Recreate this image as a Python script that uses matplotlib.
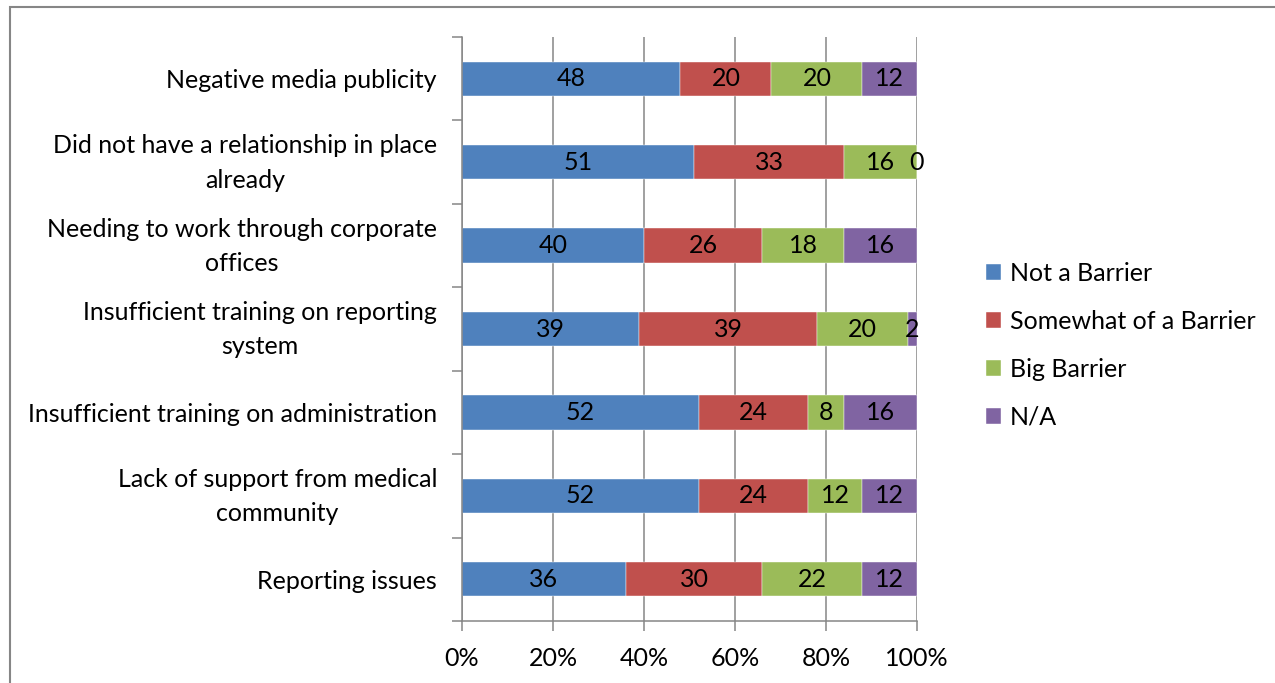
import numpy as np
import matplotlib
matplotlib.use('Agg')
import matplotlib.pyplot as plt
import matplotlib.transforms as mtransforms
from matplotlib.patches import Rectangle

plt.rcParams['font.family'] = ['Lato', 'DejaVu Sans']

# Categories listed bottom to top
categories = [
    'Reporting issues',
    'Lack of support from medical\ncommunity',
    'Insufficient training on administration',
    'Insufficient training on reporting\nsystem',
    'Needing to work through corporate\noffices',
    'Did not have a relationship in place\nalready',
    'Negative media publicity',
]
not_barrier = [36, 52, 52, 39, 40, 51, 48]
somewhat_barrier = [30, 24, 24, 39, 26, 33, 20]
big_barrier = [22, 12, 8, 20, 18, 16, 20]
not_applicable = [12, 12, 16, 2, 16, 0, 12]

series_names = ['Not a Barrier', 'Somewhat of a Barrier', 'Big Barrier', 'N/A']
series_colors = ['#4F81BD', '#C0504D', '#9BBB59', '#8064A2']
x_ticks = [0, 20, 40, 60, 80, 100]

fig = plt.figure(figsize=(12.75, 6.83), dpi=100)
ax = fig.add_axes([462 / 1275, 1 - 621 / 683, 455 / 1275, 584 / 683])

grid_color = '#868686'
fs = 18

y = np.arange(len(categories)) + 0.5
left = np.zeros(len(categories))
for vals, name, color in zip([not_barrier, somewhat_barrier, big_barrier, not_applicable],
                             series_names, series_colors):
    vals = np.array(vals, dtype=float)
    ax.barh(y, vals, left=left, height=0.41, color=color, label=name, zorder=2,
            edgecolor='white', linewidth=0.3)
    for yi, l, v in zip(y, left, vals):
        ax.text(l + v / 2, yi, f'{int(v)}', ha='center', va='center',
                fontsize=fs, color='black', zorder=3)
    left += vals

ax.set_xlim(0, 100)
ax.set_ylim(0, len(categories))
ax.set_xticks(x_ticks)
ax.set_xticklabels([f'{t}%' for t in x_ticks], fontsize=fs)
ax.xaxis.grid(True, color=grid_color, linewidth=1.1, zorder=0)

# Boundary ticks on the category axis, labels centred between them
ax.set_yticks(np.arange(len(categories) + 1))
ax.set_yticklabels([])
ax.set_yticks(y, minor=True)
ax.set_yticklabels(categories, minor=True, fontsize=fs, multialignment='center',
                   linespacing=1.6)
ax.tick_params(axis='y', which='major', length=7, width=1.1, color=grid_color)
ax.tick_params(axis='y', which='minor', length=0, pad=18)
ax.tick_params(axis='x', length=7, width=1.1, color=grid_color, pad=12)

# Two-line labels sit a little high so both lines centre on the bar
lift = mtransforms.ScaledTranslation(0, 5 / 72, fig.dpi_scale_trans)
for lbl in ax.get_yticklabels(minor=True):
    if '\n' in lbl.get_text():
        lbl.set_transform(lbl.get_transform() + lift)

for side in ['top', 'right']:
    ax.spines[side].set_visible(False)
for side in ['left', 'bottom']:
    ax.spines[side].set_color(grid_color)
    ax.spines[side].set_linewidth(1.1)

handles, labels = ax.get_legend_handles_labels()
leg = fig.legend(handles, labels, loc='upper left', bbox_to_anchor=(986 / 1275, 1 - 262 / 683),
                 frameon=False, fontsize=fs, handlelength=0.6, handleheight=0.6,
                 handletextpad=0.35, labelspacing=1.0, borderaxespad=0, borderpad=0)

# Chart area frame
fig.patches.append(Rectangle((9.5 / 1275, -0.1), 1.2, 1 - 7.5 / 683 + 0.1,
                             transform=fig.transFigure, fill=False,
                             edgecolor='#868686', linewidth=1.5, zorder=10))

fig.savefig('out.png', dpi=100)
